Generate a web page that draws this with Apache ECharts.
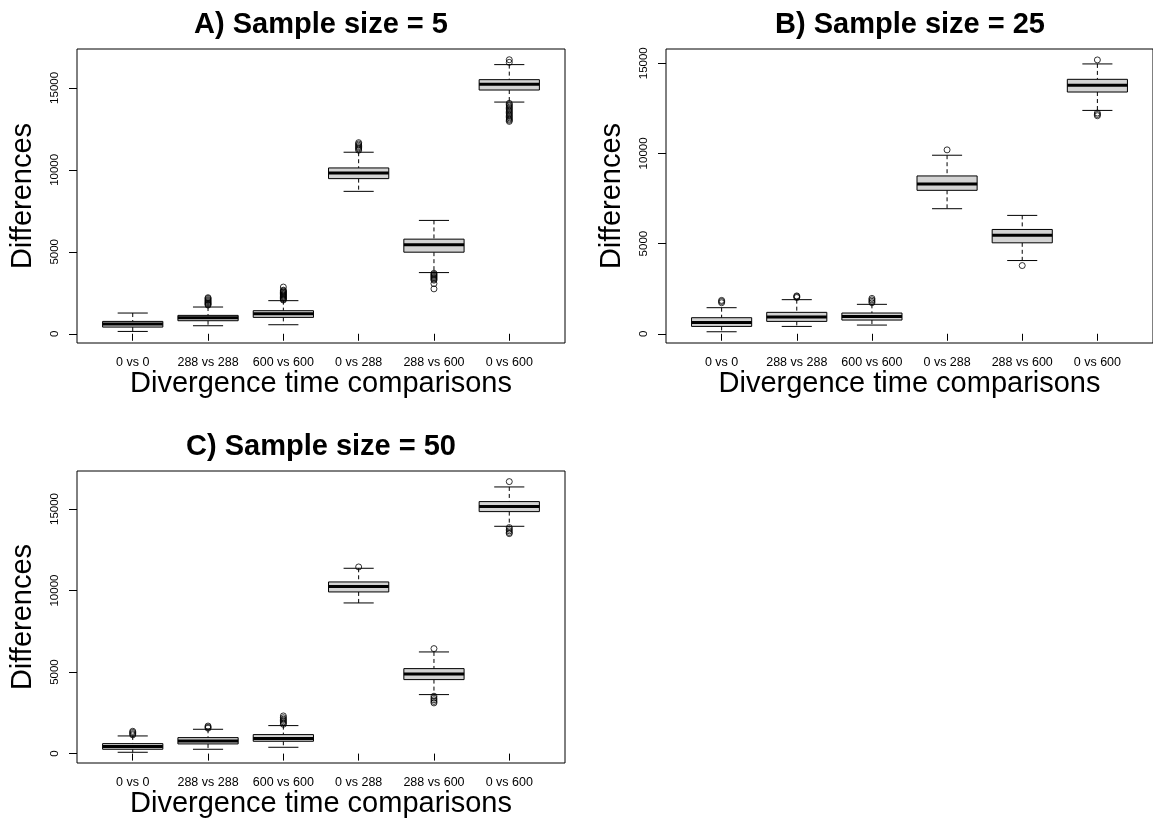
<!DOCTYPE html>
<html>
<head>
<meta charset="utf-8">
<title>Divergence time comparisons</title>
<script src="https://cdn.jsdelivr.net/npm/echarts@6/dist/echarts.min.js"></script>
<style>
  html, body { margin: 0; padding: 0; background: #fff; }
  #chart { width: 1153px; height: 823px; }
</style>
</head>
<body>
<div id="chart"></div>
<script>
// categories on the x axis (same for all three panels)
const categories = ['0 vs 0', '288 vs 288', '600 vs 600', '0 vs 288', '288 vs 600', '0 vs 600']
const yTicks = [0, 5000, 10000, 15000]

// box stats: [lower whisker, Q1, median, Q3, upper whisker]
const boxesA = [
  [143, 408, 592, 755, 1265],
  [490, 796, 979, 1122, 1632],
  [551, 1000, 1224, 1408, 2020],
  [8690, 9466, 9812, 10118, 11077],
  [3733, 4978, 5426, 5773, 6916],
  [14137, 14872, 15218, 15504, 16422]
]
// outliers: [category position, value]
const outliersA = [
  [2, 1750], [2, 1800], [2, 1850], [2, 1900], [2, 1960], [2, 2020], [2, 2080], [2, 2150], [2, 2200],
  [3, 2060], [3, 2110], [3, 2160], [3, 2210], [3, 2260], [3, 2310], [3, 2360], [3, 2410], [3, 2460],
  [3, 2510], [3, 2560], [3, 2610], [3, 2660], [3, 2850],
  [4, 11200], [4, 11280], [4, 11350], [4, 11420], [4, 11500], [4, 11580], [4, 11660],
  [5, 3690], [5, 3630], [5, 3570], [5, 3510], [5, 3450], [5, 3390], [5, 3330], [5, 3270], [5, 3060], [5, 2740],
  [6, 16720], [6, 16560],
  [6, 14060], [6, 13980], [6, 13900], [6, 13820], [6, 13740], [6, 13660], [6, 13580], [6, 13500],
  [6, 13420], [6, 13340], [6, 13260], [6, 13180], [6, 13100], [6, 13030], [6, 12960]
]

const boxesB = [
  [111, 408, 630, 890, 1446],
  [408, 686, 927, 1187, 1891],
  [482, 760, 964, 1150, 1632],
  [6934, 7954, 8306, 8751, 9900],
  [4060, 5043, 5469, 5784, 6563],
  [12385, 13404, 13775, 14109, 14962]
]
const outliersB = [
  [1, 1720], [1, 1790], [1, 1850],
  [2, 2010], [2, 2060], [2, 2100],
  [3, 1720], [3, 1800], [3, 1880], [3, 1960],
  [4, 10197],
  [5, 3782],
  [6, 15184], [6, 12240], [6, 12160], [6, 12090]
]

const boxesC = [
  [82, 266, 429, 613, 1083],
  [266, 593, 777, 981, 1492],
  [388, 756, 920, 1165, 1717],
  [9239, 9913, 10240, 10527, 11365],
  [3618, 4538, 4885, 5212, 6234],
  [13940, 14839, 15146, 15453, 16352]
]
const outliersC = [
  [1, 1150], [1, 1220], [1, 1300], [1, 1370],
  [2, 1560], [2, 1620], [2, 1690],
  [3, 1800], [3, 1880], [3, 1950], [3, 2040], [3, 2110], [3, 2200], [3, 2310],
  [4, 11446],
  [5, 6439], [5, 3520], [5, 3400], [5, 3300], [5, 3200], [5, 3110],
  [6, 16679], [6, 13860], [6, 13760], [6, 13660], [6, 13560], [6, 13490]
]

const FONT = '"Liberation Sans", Arial, Helvetica, sans-serif'

const panels = [
  { title: 'A) Sample size = 5', boxes: boxesA, outliers: outliersA,
    grid: { left: 77, top: 49, width: 488, height: 294 }, yMin: -563, yMax: 17375 },
  { title: 'B) Sample size = 25', boxes: boxesB, outliers: outliersB,
    grid: { left: 666, top: 49, width: 488, height: 294 }, yMin: -512, yMax: 15790 },
  { title: 'C) Sample size = 50', boxes: boxesC, outliers: outliersC,
    grid: { left: 77, top: 471, width: 488, height: 292 }, yMin: -576, yMax: 17330 }
]

// R-style box: dashed whiskers, solid staples, grey box, thick median
function renderBox(params, api) {
  const x = api.value(0)
  const w = api.size([0.8, 0])[0]
  const sw = api.size([0.4, 0])[0]
  const lo = api.coord([x, api.value(1)])
  const q1 = api.coord([x, api.value(2)])
  const md = api.coord([x, api.value(3)])
  const q3 = api.coord([x, api.value(4)])
  const hi = api.coord([x, api.value(5)])
  const cx = lo[0]
  const solid = { stroke: '#000', lineWidth: 1 }
  const dashed = { stroke: '#000', lineWidth: 1, lineDash: [4, 3] }
  return {
    type: 'group',
    children: [
      { type: 'line', shape: { x1: cx, y1: hi[1], x2: cx, y2: q3[1] }, style: dashed },
      { type: 'line', shape: { x1: cx, y1: q1[1], x2: cx, y2: lo[1] }, style: dashed },
      { type: 'line', shape: { x1: cx - sw / 2, y1: hi[1], x2: cx + sw / 2, y2: hi[1] }, style: solid },
      { type: 'line', shape: { x1: cx - sw / 2, y1: lo[1], x2: cx + sw / 2, y2: lo[1] }, style: solid },
      { type: 'rect', shape: { x: cx - w / 2, y: q3[1], width: w, height: q1[1] - q3[1] },
        style: { fill: '#d3d3d3', stroke: '#000', lineWidth: 1 } },
      { type: 'line', shape: { x1: cx - w / 2, y1: md[1], x2: cx + w / 2, y2: md[1] },
        style: { stroke: '#000', lineWidth: 3 } }
    ]
  }
}

const chart = echarts.init(document.getElementById('chart'), null, { renderer: 'canvas' })

const option = {
  backgroundColor: '#fff',
  animation: false,
  title: [],
  grid: [],
  xAxis: [],
  yAxis: [],
  series: []
}

panels.forEach((p, i) => {
  const g = p.grid
  option.title.push({
    text: p.title,
    left: g.left + g.width / 2 - 5,
    top: g.top - 44,
    textAlign: 'center',
    textStyle: { fontSize: 29, fontWeight: 'bold', color: '#000', fontFamily: FONT }
  })
  option.grid.push(Object.assign({ show: true, borderColor: '#000', borderWidth: 1, backgroundColor: 'transparent' }, g))
  option.xAxis.push({
    type: 'value',
    gridIndex: i,
    min: 0.26,
    max: 6.74,
    name: 'Divergence time comparisons',
    nameLocation: 'middle',
    nameGap: 26,
    nameTextStyle: { fontSize: 29, color: '#000', fontFamily: FONT },
    axisLine: { show: false },
    splitLine: { show: false },
    axisTick: { show: true, length: 7, customValues: [1, 2, 3, 4, 5, 6], lineStyle: { color: '#000' } },
    axisLabel: {
      customValues: [1, 2, 3, 4, 5, 6],
      formatter: v => categories[Math.round(v) - 1],
      fontSize: 12.5,
      color: '#000',
      margin: 13,
      fontFamily: FONT
    }
  })
  option.yAxis.push({
    type: 'value',
    gridIndex: i,
    min: p.yMin,
    max: p.yMax,
    name: 'Differences',
    nameLocation: 'middle',
    nameGap: 40,
    nameRotate: 90,
    nameTextStyle: { fontSize: 29, color: '#000', fontFamily: FONT },
    axisLine: { show: false },
    splitLine: { show: false },
    axisTick: { show: true, length: 8, customValues: yTicks, lineStyle: { color: '#000' } },
    axisLabel: {
      customValues: yTicks,
      formatter: v => String(v),
      rotate: 90,
      fontSize: 11.5,
      color: '#000',
      margin: 16,
      fontFamily: FONT
    }
  })
  option.series.push({
    type: 'custom',
    xAxisIndex: i,
    yAxisIndex: i,
    renderItem: renderBox,
    encode: { x: 0, y: [1, 2, 3, 4, 5] },
    data: p.boxes.map((b, k) => [k + 1].concat(b)),
    silent: true
  })
  option.series.push({
    type: 'scatter',
    xAxisIndex: i,
    yAxisIndex: i,
    symbol: 'circle',
    symbolSize: 6,
    itemStyle: { color: 'rgba(0,0,0,0)', borderColor: '#000', borderWidth: 1 },
    data: p.outliers,
    silent: true,
    z: 3
  })
})

chart.setOption(option)
</script>
</body>
</html>
